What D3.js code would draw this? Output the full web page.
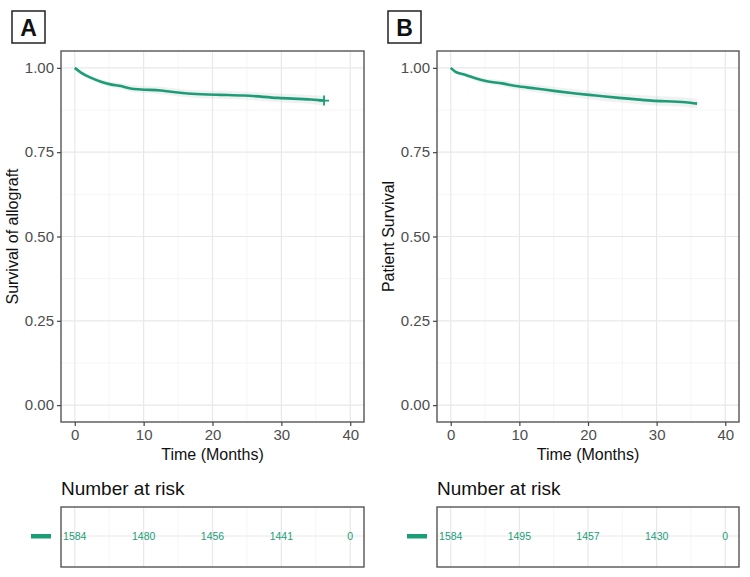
<!DOCTYPE html>
<html><head><meta charset="utf-8">
<script src="https://cdn.jsdelivr.net/npm/d3@7"></script>
<style>body{margin:0;background:#fff}svg{display:block;font-family:"Liberation Sans",Arial,sans-serif}</style>
</head><body>
<svg id="c" width="750" height="577"></svg>
<script>
// ---- data ----
const xTicks = [0, 10, 20, 30, 40];
const yTicks = [0, 0.25, 0.5, 0.75, 1.0];
const yTickLabels = ["0.00", "0.25", "0.50", "0.75", "1.00"];
const panelLabels = ["A", "B"];
const yTitles = ["Survival of allograft", "Patient Survival"];
const xTitle = "Time (Months)";
const riskTitle = "Number at risk";

const timeA = [0, 0.9, 2.3, 3.8, 5.2, 6.7, 8.1, 9.6, 12.5, 14, 16.4, 19.3, 21.2, 24.6, 29.5, 34.3, 36.2];
const survA = [1.0, 0.986, 0.971, 0.959, 0.951, 0.946, 0.939, 0.936, 0.933, 0.929, 0.924, 0.921, 0.920, 0.918, 0.911, 0.906, 0.903];
const lowerA = [1.0, 0.981, 0.965, 0.952, 0.943, 0.937, 0.929, 0.926, 0.922, 0.918, 0.913, 0.909, 0.908, 0.906, 0.898, 0.893, 0.889];
const upperA = [1.0, 0.991, 0.977, 0.966, 0.959, 0.955, 0.949, 0.946, 0.944, 0.940, 0.935, 0.933, 0.932, 0.930, 0.924, 0.919, 0.917];

const timeB = [0, 0.7, 2.2, 3.6, 5.1, 7.5, 9.5, 12.4, 15.3, 18.2, 21.1, 24.5, 29.3, 34.2, 35.9];
const survB = [1.0, 0.988, 0.979, 0.969, 0.961, 0.954, 0.946, 0.939, 0.931, 0.924, 0.918, 0.911, 0.903, 0.898, 0.894];
const lowerB = [1.0, 0.984, 0.973, 0.962, 0.953, 0.945, 0.936, 0.928, 0.919, 0.912, 0.905, 0.898, 0.889, 0.884, 0.880];
const upperB = [1.0, 0.992, 0.985, 0.976, 0.969, 0.963, 0.956, 0.950, 0.943, 0.936, 0.931, 0.924, 0.917, 0.912, 0.908];

const censorA = [36.2];
const censorASurv = [0.903];

const riskTimes = [0, 10, 20, 30, 40];
const riskA = [1584, 1480, 1456, 1441, 0];
const riskB = [1584, 1495, 1457, 1430, 0];

const lineColor = "#1B9E77";

// ---- drawing ----
const svg = d3.select("#c");
const panels = [
  {left: 61, right: 364, time: timeA, surv: survA, lo: lowerA, hi: upperA, risk: riskA, censor: censorA, censorS: censorASurv, labX: 12, yTitleX: 12},
  {left: 437, right: 739, time: timeB, surv: survB, lo: lowerB, hi: upperB, risk: riskB, censor: [], censorS: [], labX: 388, yTitleX: 388}
];
const pTop = 51, pBottom = 422;
const rTop = 507, rBottom = 567;

panels.forEach((p, i) => {
  const g = svg.append("g");
  const x = d3.scaleLinear().domain([-2, 42]).range([p.left, p.right]);
  const y = d3.scaleLinear().domain([-0.05, 1.05]).range([pBottom, pTop]);
  const minorX = [5, 15, 25, 35];
  const minorY = [0.125, 0.375, 0.625, 0.875];

  // grid
  g.selectAll(".mx").data(minorX).join("line")
    .attr("x1", d => x(d)).attr("x2", d => x(d)).attr("y1", pTop).attr("y2", pBottom)
    .attr("stroke", "#f2f2f2").attr("stroke-width", 0.8);
  g.selectAll(".my").data(minorY).join("line")
    .attr("x1", p.left).attr("x2", p.right).attr("y1", d => y(d)).attr("y2", d => y(d))
    .attr("stroke", "#f2f2f2").attr("stroke-width", 0.8);
  g.selectAll(".gx").data(xTicks).join("line")
    .attr("x1", d => x(d)).attr("x2", d => x(d)).attr("y1", pTop).attr("y2", pBottom)
    .attr("stroke", "#e8e8e8").attr("stroke-width", 1.2);
  g.selectAll(".gy").data(yTicks).join("line")
    .attr("x1", p.left).attr("x2", p.right).attr("y1", d => y(d)).attr("y2", d => y(d))
    .attr("stroke", "#e8e8e8").attr("stroke-width", 1.2);

  // band
  const idx = d3.range(p.time.length);
  g.append("path").datum(idx)
    .attr("d", d3.area().x(j => x(p.time[j])).y0(j => y(p.lo[j])).y1(j => y(p.hi[j])).curve(d3.curveMonotoneX))
    .attr("fill", "#c8c8c8").attr("opacity", 0.25);
  // curve
  g.append("path").datum(idx)
    .attr("d", d3.line().x(j => x(p.time[j])).y(j => y(p.surv[j])).curve(d3.curveMonotoneX))
    .attr("fill", "none").attr("stroke", lineColor).attr("stroke-width", 2.6);
  // censor marks
  p.censor.forEach((t, k) => {
    const cx = x(t), cy = y(p.censorS[k]);
    g.append("path").attr("d", `M${cx-5},${cy}H${cx+5}M${cx},${cy-5}V${cy+5}`)
      .attr("stroke", lineColor).attr("stroke-width", 1.8);
  });

  // border
  g.append("rect").attr("x", p.left).attr("y", pTop).attr("width", p.right - p.left).attr("height", pBottom - pTop)
    .attr("fill", "none").attr("stroke", "#555").attr("stroke-width", 1.4);

  // axes
  const ax = g.append("g").attr("transform", `translate(0,${pBottom})`)
    .call(d3.axisBottom(x).tickValues(xTicks).tickSize(4).tickPadding(3));
  const ay = g.append("g").attr("transform", `translate(${p.left},0)`)
    .call(d3.axisLeft(y).tickValues(yTicks).tickFormat((d, k) => yTickLabels[k]).tickSize(4).tickPadding(3));
  [ax, ay].forEach(a => {
    a.select(".domain").remove();
    a.selectAll(".tick line").attr("stroke", "#444").attr("stroke-width", 1.2);
    a.selectAll(".tick text").attr("fill", "#4d4d4d").style("font-size", "15px").style("font-family", '"Liberation Sans",Arial,sans-serif');
  });

  // titles
  g.append("text").attr("x", (p.left + p.right) / 2).attr("y", 460).attr("text-anchor", "middle")
    .style("font-size", "16px").attr("fill", "#111").text(xTitle);
  g.append("text").attr("transform", `translate(${p.yTitleX + 6},${(pTop + pBottom) / 2}) rotate(-90)`)
    .attr("text-anchor", "middle").style("font-size", "16px").attr("fill", "#111").text(yTitles[i]);

  // panel label
  g.append("rect").attr("x", p.labX).attr("y", 11).attr("width", 33).attr("height", 32)
    .attr("fill", "#fff").attr("stroke", "#222").attr("stroke-width", 1.5);
  g.append("text").attr("x", p.labX + 16.5).attr("y", 36).attr("text-anchor", "middle")
    .style("font-size", "23px").style("font-weight", "bold").attr("fill", "#111").text(panelLabels[i]);

  // risk table
  g.append("text").attr("x", p.left).attr("y", 495).style("font-size", "19px").attr("fill", "#111").text(riskTitle);
  const rowY = (rTop + rBottom) / 2 - 1;
  g.selectAll(".rmx").data(minorX).join("line")
    .attr("x1", d => x(d)).attr("x2", d => x(d)).attr("y1", rTop).attr("y2", rBottom)
    .attr("stroke", "#f2f2f2").attr("stroke-width", 0.8);
  g.selectAll(".rgx").data(xTicks).join("line")
    .attr("x1", d => x(d)).attr("x2", d => x(d)).attr("y1", rTop).attr("y2", rBottom)
    .attr("stroke", "#e8e8e8").attr("stroke-width", 1.2);
  g.append("line").attr("x1", p.left).attr("x2", p.right).attr("y1", rowY).attr("y2", rowY)
    .attr("stroke", "#e8e8e8").attr("stroke-width", 1.2);
  g.append("rect").attr("x", p.left).attr("y", rTop).attr("width", p.right - p.left).attr("height", rBottom - rTop)
    .attr("fill", "none").attr("stroke", "#555").attr("stroke-width", 1.4);
  g.selectAll(".rn").data(riskTimes).join("text")
    .attr("x", d => x(d)).attr("y", rowY + 4).attr("text-anchor", "middle")
    .style("font-size", "10.5px").attr("fill", lineColor).text((d, k) => p.risk[k]);
  g.append("rect").attr("x", p.left - 30).attr("y", rowY - 2).attr("width", 20).attr("height", 4.5).attr("fill", lineColor);
});
</script>
</body></html>
